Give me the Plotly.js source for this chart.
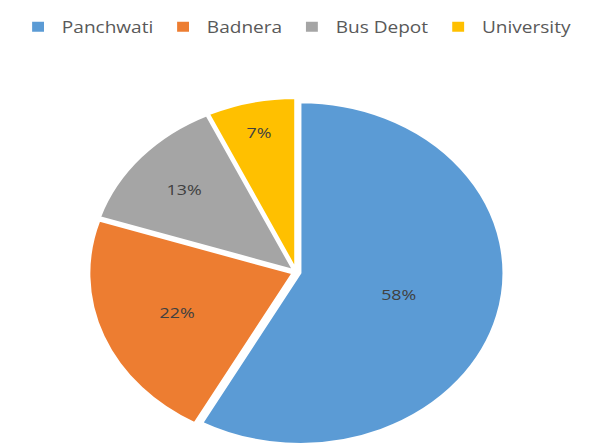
<!DOCTYPE html>
<html>
<head>
<meta charset="utf-8">
<script src="https://cdn.plot.ly/plotly-3.0.1.min.js"></script>
<style>
html,body{margin:0;padding:0;background:#fff;overflow:hidden;}
#wrap{width:593px;height:448px;overflow:hidden;}
#chart{width:498px;height:448px;transform:scaleX(1.19);transform-origin:0 0;}
</style>
</head>
<body>
<div id="wrap"><div id="chart"></div></div>
<script>
const labels = ["Panchwati", "Badnera", "Bus Depot", "University"];
const values = [58, 22, 13, 7];
const colors = ["#5B9BD5", "#ED7D31", "#A5A5A5", "#FFC000"];

Plotly.newPlot("chart", [{
  type: "pie",
  labels: labels,
  values: values,
  sort: false,
  direction: "clockwise",
  rotation: 0,
  pull: [0.02, 0.02, 0.02, 0.02],
  marker: {colors: colors, line: {color: "#ffffff", width: 2}},
  textinfo: "percent",
  texttemplate: "%{percent:.0%}",
  textposition: "inside",
  insidetextorientation: "horizontal",
  textfont: {family: "Open Sans", size: 15, color: "#404040"},
  hoverinfo: "label+percent",
  domain: {x: [0.15, 0.85], y: [0, 0.785]}
}], {
  width: 498,
  height: 448,
  margin: {l: 0, r: 0, t: 0, b: 0},
  paper_bgcolor: "#ffffff",
  showlegend: true,
  legend: {
    orientation: "h",
    x: 0.5, xanchor: "center",
    y: 0.978, yanchor: "top",
    font: {family: "Open Sans", size: 16, color: "#595959"},
    itemwidth: 30,
    traceorder: "normal"
  }
}, {displayModeBar: false, staticPlot: true});
</script>
</body>
</html>
